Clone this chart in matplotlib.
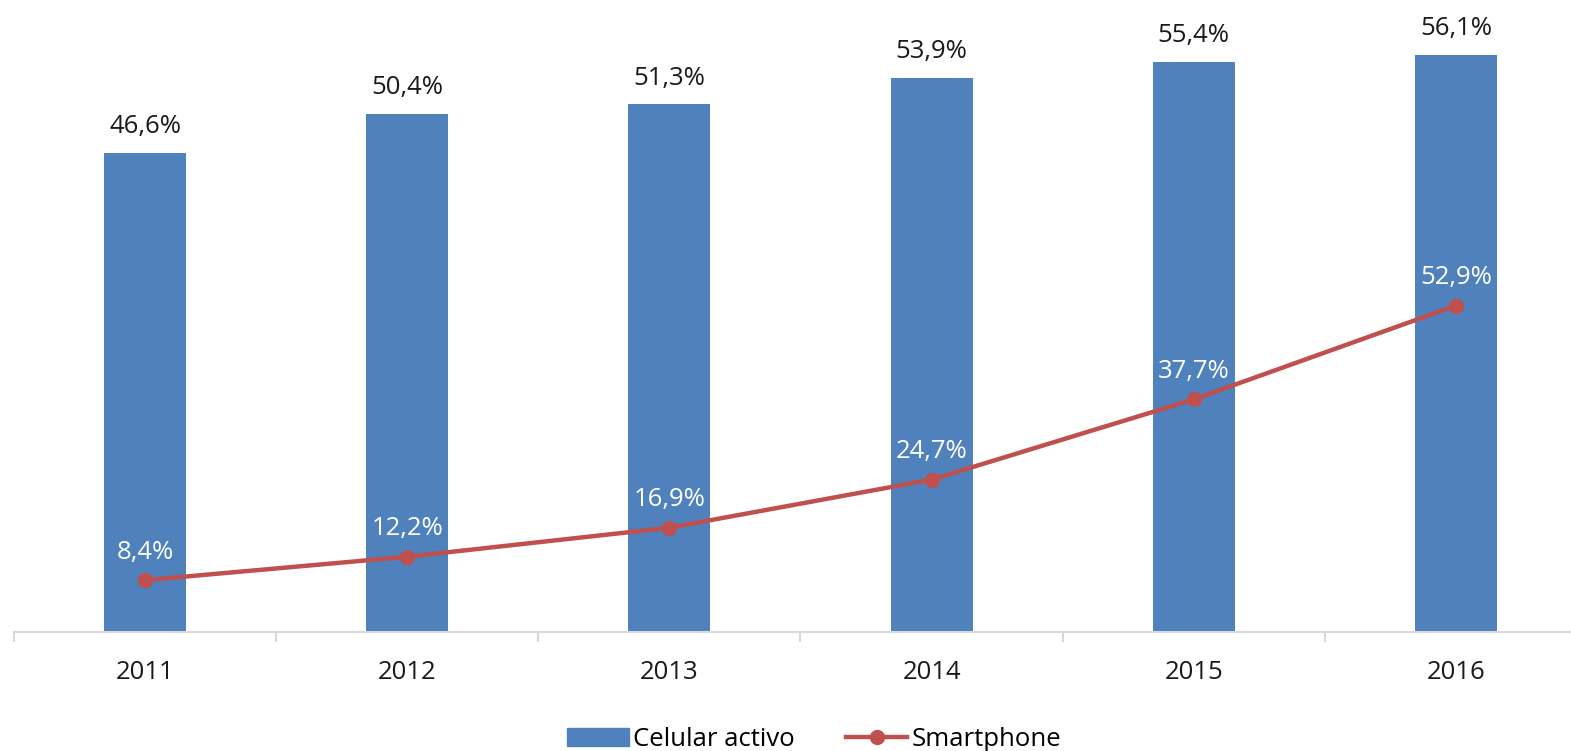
import matplotlib.pyplot as plt
from matplotlib.lines import Line2D
from matplotlib.patches import Patch

plt.rcParams['font.family'] = ['Open Sans', 'DejaVu Sans']

# datos
anios = ['2011', '2012', '2013', '2014', '2015', '2016']
celular = [46.6, 50.4, 51.3, 53.9, 55.4, 56.1]
smartphone = [8.4, 12.2, 16.9, 24.7, 37.7, 52.9]

azul = '#4F81BD'
rojo = '#C0504D'
gris = '#D9D9D9'

fig = plt.figure(figsize=(15.71, 7.51), dpi=100)
ax = fig.add_axes([14 / 1571, 119 / 751, 1573 / 1571, 617 / 751])
x = list(range(len(anios)))

# barras en eje principal
ax.bar(x, celular, width=0.313, color=azul, zorder=2)
ax.set_ylim(0, 60)
ax.set_xlim(-0.5, len(anios) - 0.5)
for xi, v in zip(x, celular):
    ax.annotate(f'{v:.1f}%'.replace('.', ','), (xi, v), xytext=(0, 10),
                textcoords='offset points', ha='center', va='bottom',
                fontsize=18.5, color='#1a1a1a')

# línea en eje secundario
ax2 = ax.twinx()
ax2.plot(x, smartphone, color=rojo, lw=3.2, marker='o', ms=10, zorder=3)
ax2.set_ylim(0, 100)
for xi, v in zip(x, smartphone):
    ax2.annotate(f'{v:.1f}%'.replace('.', ','), (xi, v), xytext=(0, 11),
                 textcoords='offset points', ha='center', va='bottom',
                 fontsize=18.5, color='white')

for a in (ax, ax2):
    for s in ['top', 'right', 'left']:
        a.spines[s].set_visible(False)
    a.set_yticks([])
ax2.spines['bottom'].set_visible(False)
ax.spines['bottom'].set_color(gris)
ax.spines['bottom'].set_linewidth(1.5)

# marcas entre categorías
ax.set_xticks([i - 0.5 for i in range(len(anios) + 1)])
ax.set_xticklabels([])
ax.tick_params(axis='x', length=7, width=1.5, color=gris)
for xi, lab in zip(x, anios):
    ax.text(xi, -0.066, lab, transform=ax.get_xaxis_transform(),
            ha='center', va='center', fontsize=18.5, color='#1a1a1a')

handles = [Patch(color=azul, label='Celular activo'),
           Line2D([0], [0], color=rojo, lw=3.2, marker='o', ms=10, label='Smartphone')]
fig.legend(handles=handles, loc='center', bbox_to_anchor=(814 / 1571, 1 - 739 / 751),
           ncol=2, frameon=False, fontsize=18.5, handlelength=2.4, handletextpad=0.15,
           columnspacing=2.0)

fig.savefig('out.png', dpi=100)
